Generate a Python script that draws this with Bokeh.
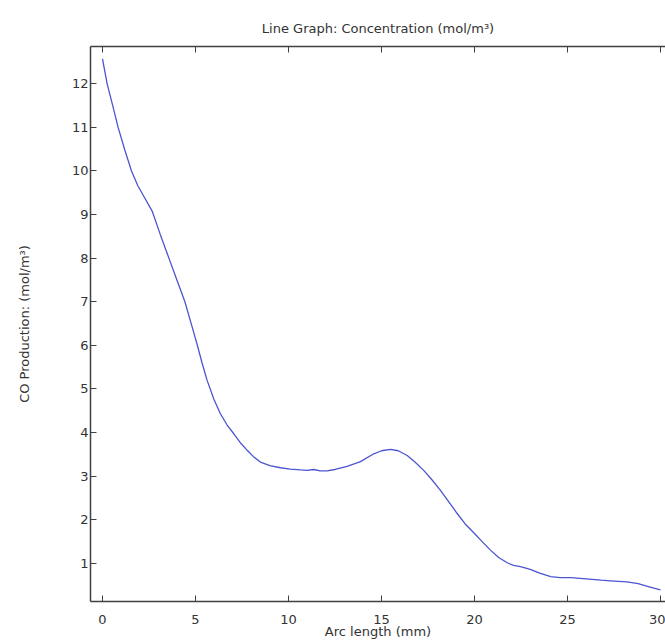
from bokeh.plotting import figure
from bokeh.models import LinearAxis, FixedTicker, Range1d
from bokeh.embed import file_html
from bokeh.resources import INLINE

# Data
arc_length_mm = [0, 0.25, 0.55, 0.84, 1.2, 1.56, 1.9, 2.31, 2.67, 3.1, 3.57, 4.0, 4.43, 4.8, 5.1,
                 5.35, 5.62, 6.0, 6.34, 6.7, 7.06, 7.4, 7.78, 8.1, 8.49, 9.0, 9.57, 10.1,
                 10.65, 11.0, 11.36, 11.7, 12.08, 12.5, 13.15, 13.87, 14.59, 15.0, 15.48,
                 15.9, 16.38, 16.8, 17.27, 17.7, 18.17, 18.6, 19.07, 19.5, 20.0, 20.4,
                 20.86, 21.3, 21.76, 22.1, 22.47, 23.0, 23.5, 24.1, 24.6, 25.2, 26.0, 26.8,
                 27.5, 28.2, 28.8, 29.3, 29.7, 30.0]
co_concentration = [12.57, 12.0, 11.5, 11.0, 10.48, 10.0, 9.66, 9.35, 9.08, 8.55, 8.0, 7.5, 7.0, 6.45, 6.0,
                    5.6, 5.2, 4.75, 4.43, 4.17, 3.97, 3.77, 3.59, 3.45, 3.32, 3.24, 3.19, 3.16,
                    3.14, 3.13, 3.15, 3.12, 3.12, 3.15, 3.22, 3.33, 3.51, 3.58, 3.61,
                    3.58, 3.47, 3.32, 3.13, 2.92, 2.67, 2.42, 2.14, 1.9, 1.68, 1.5,
                    1.3, 1.13, 1.01, 0.95, 0.92, 0.86, 0.77, 0.69, 0.67, 0.67, 0.64, 0.61,
                    0.59, 0.57, 0.53, 0.47, 0.42, 0.39]
x_ticks = [0, 5, 10, 15, 20, 25, 30]
y_ticks = [1, 2, 3, 4, 5, 6, 7, 8, 9, 10, 11, 12]

FONT = "DejaVu Sans"
TXT = "#333333"
AX = "#404040"

p = figure(width=665, height=641, output_backend="svg", toolbar_location=None,
           x_range=Range1d(-0.645, 30.27), y_range=Range1d(0.121, 12.856),
           x_axis_location=None, y_axis_location=None,
           min_border_left=90, min_border_right=0, min_border_top=46, min_border_bottom=40,
           background_fill_color="white", border_fill_color="white",
           outline_line_color=None, outline_line_alpha=0)
p.grid.visible = False

p.title.text = "Line Graph: Concentration (mol/m³)"
p.title.align = "center"
p.title.offset = 2
p.title.text_font = FONT
p.title.text_font_size = "13px"
p.title.text_font_style = "normal"
p.title.text_color = TXT
p.title.standoff = 21


def style(ax):
    ax.axis_line_color = AX
    ax.axis_line_width = 1.5
    ax.major_tick_line_color = AX
    ax.major_tick_line_width = 1
    ax.major_tick_in = 6
    ax.major_tick_out = 0
    ax.minor_tick_line_color = None
    ax.major_label_text_font = FONT
    ax.major_label_text_font_size = "13px"
    ax.major_label_text_color = TXT
    ax.axis_label_text_font = FONT
    ax.axis_label_text_font_size = "13px"
    ax.axis_label_text_font_style = "normal"
    ax.axis_label_text_color = TXT


bottom = LinearAxis(ticker=FixedTicker(ticks=x_ticks), axis_label="Arc length (mm)")
style(bottom)
bottom.major_label_standoff = 13
bottom.axis_label_standoff = -3
p.add_layout(bottom, "below")

left = LinearAxis(ticker=FixedTicker(ticks=y_ticks), axis_label="CO Production: (mol/m³)")
style(left)
left.major_label_standoff = 2
left.axis_label_standoff = 37
p.add_layout(left, "left")

top = LinearAxis(ticker=FixedTicker(ticks=x_ticks))
style(top)
top.major_label_text_color = None
top.major_label_text_font_size = "1px"
top.major_label_standoff = 0
p.add_layout(top, "above")

p.line(arc_length_mm, co_concentration, line_color="#4a55d0", line_width=1.3)

open("out.html", "w").write(file_html(p, INLINE))
